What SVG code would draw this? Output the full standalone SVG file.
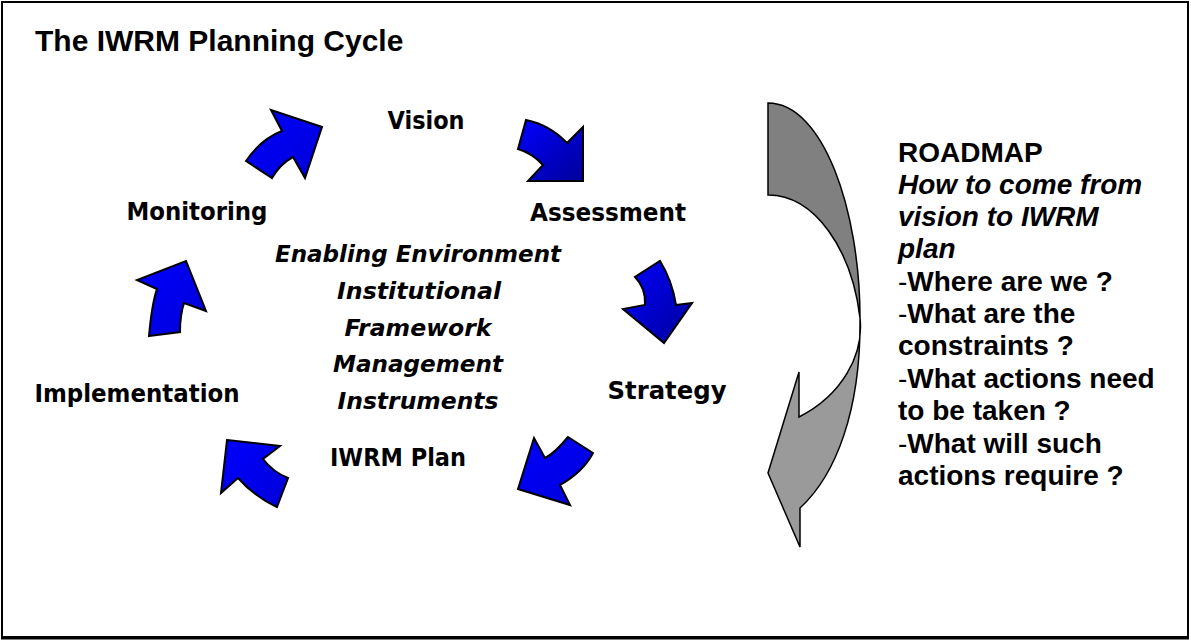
<svg xmlns="http://www.w3.org/2000/svg" width="1191" height="640" viewBox="0 0 1191 640">
<defs>
<style>
.lbl{font-family:"DejaVu Sans",sans-serif;font-weight:bold;font-size:24px;fill:#000;text-anchor:middle}
.ctr{font-family:"DejaVu Sans",sans-serif;font-weight:bold;font-style:italic;font-size:23px;fill:#000;text-anchor:middle}
.rt{font-family:"Liberation Sans",Arial,sans-serif;font-weight:bold;font-size:28px;fill:#000}
.it{font-style:italic}
.reg{font-weight:normal}
.arr{stroke:#000;stroke-width:2;stroke-linejoin:miter}
.a1{fill:url(#gLight)}
.a2{fill:url(#gDark)}
.grey{stroke:#000;stroke-width:1.5}
</style>
<linearGradient id="gDark" x1="0" y1="0" x2="1" y2="1">
<stop offset="0" stop-color="#0000FF"/>
<stop offset="1" stop-color="#00009A"/>
</linearGradient>
<linearGradient id="gLight" x1="0" y1="0" x2="1" y2="1">
<stop offset="0" stop-color="#0000FF"/>
<stop offset="1" stop-color="#0000D8"/>
</linearGradient>
<clipPath id="clipStrat"><rect x="590" y="360" width="160" height="44"/></clipPath>
</defs>
<rect x="0" y="0" width="1191" height="640" fill="#fff"/>
<rect x="2" y="2" width="1186" height="635" fill="none" stroke="#000" stroke-width="2"/>
<line x1="1" y1="638" x2="1189" y2="638" stroke="#000" stroke-width="3"/>
<text x="35" y="51" font-family="Liberation Sans, Arial, sans-serif" font-weight="bold" font-size="30">The IWRM Planning Cycle</text>
<g id="connectors">
<path class="arr a1" d="M246,161 L272,178 Q280,164 293,157 L305,178 L322,127 L271,110 L282,131 Q261,139 246,161 Z"/>
<path class="arr a2" d="M526,120 Q550,125 567,143 L583,127 L583,181 L528,181 L543,165 Q532,153 518,149 Z"/>
<path class="arr a2" d="M660,261 Q672,280 676,305 L692,303 L664,343 L623,309 L645,305 Q646,288 635,277 Z"/>
<path class="arr a1" d="M568,437 L593,453 Q583,472 560,485 L570,505 L518,489 L534,438 L545,458 Q555,453 568,437 Z"/>
<path class="arr a1" d="M227,440 L280,446 L263,459 Q273,472 288,478 L277,507 Q255,497 238,478 L221,493 Z"/>
<path class="arr a1" d="M149,336 L180,332 Q180,315 184,303 L206,311 L186,261 L137,280 L157,289 Q152,303 149,336 Z"/>
</g>
<g id="roadmap-arrow">
<path class="grey" fill="#808080" d="M768,103 C823,103 860,210 860,318 C852,250 815,195 768,195 Z"/>
<path class="grey" fill="#9A9A9A" d="M860,318 C861,410 836,475 800,508 L800,547 L768,473 L799,372 L799,417 C842,395 864,355 860,318 Z"/>
</g>
<g id="vision"><text class="lbl" x="426" y="129" textLength="77" lengthAdjust="spacingAndGlyphs">Vision</text></g>
<g id="assessment"><text class="lbl" x="608" y="221" textLength="156" lengthAdjust="spacingAndGlyphs">Assessment</text></g>
<g id="strategy"><text class="lbl" x="667" y="399" textLength="119" lengthAdjust="spacingAndGlyphs" clip-path="url(#clipStrat)">Strategy</text></g>
<g id="iwrm-plan"><text class="lbl" x="398" y="466" textLength="136" lengthAdjust="spacingAndGlyphs">IWRM Plan</text></g>
<g id="implementation"><text class="lbl" x="137" y="402" textLength="205" lengthAdjust="spacingAndGlyphs">Implementation</text></g>
<g id="monitoring"><text class="lbl" x="197" y="220" textLength="141" lengthAdjust="spacingAndGlyphs">Monitoring</text></g>
<g id="center">
<text class="ctr" x="418" y="262" textLength="286" lengthAdjust="spacingAndGlyphs">Enabling Environment</text>
<text class="ctr" x="419" y="299" textLength="164" lengthAdjust="spacingAndGlyphs">Institutional</text>
<text class="ctr" x="418" y="336" textLength="147" lengthAdjust="spacingAndGlyphs">Framework</text>
<text class="ctr" x="418" y="372" textLength="170" lengthAdjust="spacingAndGlyphs">Management</text>
<text class="ctr" x="418" y="409" textLength="161" lengthAdjust="spacingAndGlyphs">Instruments</text>
</g>
<g id="roadmap-text">
<text class="rt" x="898" y="162">ROADMAP</text>
<text class="rt it" x="898" y="194">How to come from</text>
<text class="rt it" x="898" y="226">vision to IWRM</text>
<text class="rt it" x="898" y="258">plan</text>
<text class="rt" x="898" y="291"><tspan class="reg">-</tspan>Where are we ?</text>
<text class="rt" x="898" y="323"><tspan class="reg">-</tspan>What are the</text>
<text class="rt" x="898" y="355">constraints ?</text>
<text class="rt" x="898" y="388"><tspan class="reg">-</tspan>What actions need</text>
<text class="rt" x="898" y="420">to be taken ?</text>
<text class="rt" x="898" y="453"><tspan class="reg">-</tspan>What will such</text>
<text class="rt" x="898" y="485">actions require ?</text>
</g>
</svg>
